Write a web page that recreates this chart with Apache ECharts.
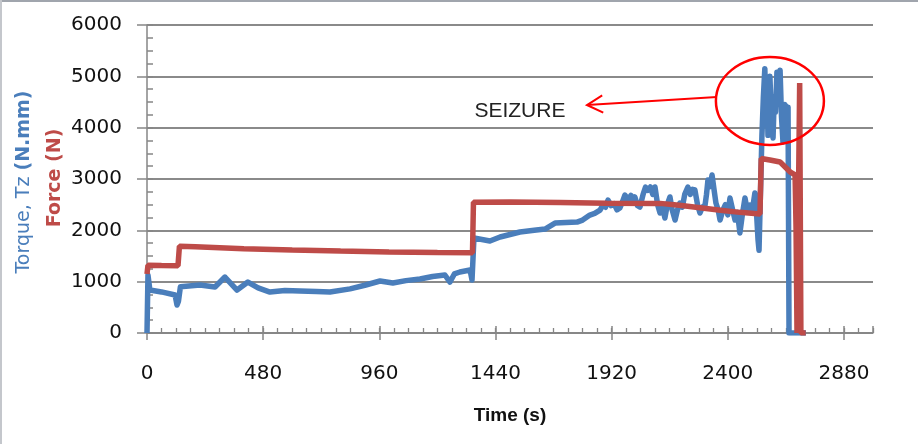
<!DOCTYPE html>
<html>
<head>
<meta charset="utf-8">
<title>Torque and force vs time</title>
<script src="https://cdn.jsdelivr.net/npm/echarts@6/dist/echarts.min.js"></script>
<style>
  html, body { margin: 0; padding: 0; background: #fff; }
  #chart { width: 918px; height: 444px; }
</style>
</head>
<body>
<div id="chart"></div>
<script>
// torque Tz (N.mm) readings
const torqueTime = [0, 4, 12, 60, 116, 124, 130, 138, 145, 219, 281, 322, 372, 417, 459, 508, 570, 632, 700, 756,
  839, 900, 963, 1016, 1070, 1128, 1180, 1231, 1252, 1270, 1293, 1335, 1343, 1351, 1417, 1459, 1541, 1600, 1645, 1686,
  1777, 1800, 1830, 1850, 1872, 1885, 1895, 1905, 1918, 1930, 1942, 1954, 1965, 1975, 1988, 2000, 2008, 2016, 2027, 2037,
  2050, 2060, 2070, 2080, 2090, 2099, 2110, 2120, 2130, 2140, 2150, 2161, 2170, 2182, 2192, 2202, 2212, 2222, 2235, 2245,
  2254, 2264, 2275, 2285, 2295, 2306, 2312, 2318, 2326, 2335, 2343, 2351, 2360, 2368, 2380, 2390, 2400, 2409, 2420, 2430,
  2440, 2450, 2460, 2471, 2480, 2492, 2500, 2512, 2518, 2525, 2529,
  2541, 2547, 2553, 2558, 2561, 2566, 2570, 2574, 2580, 2587, 2592, 2597, 2603, 2609, 2616, 2622, 2628, 2632, 2636, 2642,
  2649, 2653, 2723]
const torqueVal = [0, 1130, 837, 800, 740, 545, 620, 900, 896, 935, 896, 1090, 837, 993, 880, 798, 830, 820, 810, 800,
  860, 930, 1013, 974, 1020, 1052, 1100, 1130, 993, 1150, 1188, 1227, 1032, 1850, 1791, 1870, 1967, 2000, 2025, 2142,
  2160, 2200, 2298, 2330, 2395, 2500, 2450, 2590, 2480, 2520, 2400, 2435, 2560, 2688, 2600, 2680, 2560, 2650, 2480, 2454,
  2700, 2844, 2780, 2844, 2700, 2844, 2500, 2337, 2450, 2240, 2500, 2650, 2400, 2201, 2400, 2532, 2450, 2700, 2844, 2700,
  2800, 2786, 2500, 2337, 2450, 2493, 2700, 2980, 2850, 3078, 2800, 2532, 2400, 2201, 2400, 2500, 2300, 2630, 2400, 2200,
  2350, 1948, 2300, 2630, 2400, 2493, 2350, 2727, 2400, 1812, 1610,
  3850, 4600, 5150, 4300, 4900, 3850, 4500, 5000, 4200, 3800, 4600, 4300, 5080, 4500, 5120, 4200, 3720, 4400, 4450, 4100,
  4400, 0, 0]

// normal force (N) readings
const forceTime = [0, 4, 60, 128, 134, 200, 400, 600, 800, 1000, 1200, 1345, 1349, 1500, 1707, 1900, 2120, 2200, 2285,
  2370, 2450, 2533, 2538, 2574, 2616, 2657, 2678, 2682, 2686, 2692, 2697, 2702, 2722]
const forceVal = [1150, 1320, 1315, 1310, 1690, 1680, 1640, 1615, 1595, 1580, 1570, 1565, 2545, 2550, 2540, 2530, 2525,
  2490, 2440, 2390, 2350, 2320, 3400, 3370, 3330, 3140, 3080, 2050, 0, 0, 4870, 0, 0]

const timeTicks = [0, 480, 960, 1440, 1920, 2400, 2880]

// seizure note, in data units
const seizureCircle = [2574, 4520]
const arrowFrom = [2355, 4597]
const arrowTip = [1818, 4441]
const seizureLabel = [1541, 4324]

const BLUE = '#4a7ebb'
const RED = '#be4b48'
const AXIS = '#868686'
const FONT = 'DejaVu Sans'

const zip = (xs, ys) => xs.map((x, i) => [x, ys[i]])
const plain = (v) => String(v)

const chart = echarts.init(document.getElementById('chart'))

const overlayX = {
  type: 'value', min: 0, max: 3000, position: 'bottom',
  axisLine: { show: false }, axisLabel: { show: false }, splitLine: { show: false },
}
const overlayY = {
  type: 'value', min: 0, max: 6000, position: 'left',
  axisLine: { show: false }, axisLabel: { show: false }, splitLine: { show: false },
}

chart.setOption({
  animation: false,
  grid: { left: 147, right: 45, top: 25, bottom: 111 },
  xAxis: [
    {
      type: 'value', min: 0, max: 3000, position: 'bottom',
      axisLine: { lineStyle: { color: AXIS, width: 1.5 } },
      axisTick: { customValues: timeTicks, length: 7, lineStyle: { color: AXIS, width: 1.5 } },
      axisLabel: { customValues: timeTicks, margin: 31, fontSize: 20, color: '#111', fontFamily: FONT, formatter: plain },
      splitLine: { show: false },
      name: 'Time (s)', nameLocation: 'middle', nameGap: 73,
      nameTextStyle: { fontSize: 19, fontWeight: 'bold', color: '#111', fontFamily: 'Liberation Sans' },
    },
    { ...overlayX, interval: 480, axisTick: { inside: true, length: 7, lineStyle: { color: AXIS, width: 1.5 } } },
    { ...overlayX, interval: 60, axisTick: { inside: true, length: 5, lineStyle: { color: AXIS, width: 1.3 } } },
  ],
  yAxis: [
    {
      type: 'value', min: 0, max: 6000, interval: 1000, position: 'left',
      axisLine: { show: true, lineStyle: { color: AXIS, width: 1.5 } },
      axisTick: { show: true, length: 10, lineStyle: { color: AXIS, width: 1.5 } },
      axisLabel: { margin: 25, fontSize: 20, color: '#111', fontFamily: FONT, formatter: plain },
      splitLine: { lineStyle: { color: '#8a8a8a', width: 2 } },
    },
    { ...overlayY, interval: 250, axisTick: { show: true, inside: true, length: 6, lineStyle: { color: AXIS, width: 1.5 } } },
  ],
  series: [
    {
      name: 'Torque', type: 'line', data: zip(torqueTime, torqueVal), symbol: 'none',
      lineStyle: { color: BLUE, width: 5.5, join: 'round' }, itemStyle: { color: BLUE }, z: 2,
    },
    {
      name: 'Force', type: 'line', data: zip(forceTime, forceVal), symbol: 'none',
      lineStyle: { color: RED, width: 5.5 }, itemStyle: { color: RED }, z: 3,
    },
  ],
})

function px(p) {
  return chart.convertToPixel({ xAxisIndex: 0, yAxisIndex: 0 }, p)
}

const c = px(seizureCircle)
const a0 = px(arrowFrom)
const a1 = px(arrowTip)
const lab = px(seizureLabel)
const ang = Math.atan2(a0[1] - a1[1], a0[0] - a1[0])
const headLen = 18
const spread = 0.5
const wing = (s) => [a1[0] + headLen * Math.cos(ang + s), a1[1] + headLen * Math.sin(ang + s)]

chart.setOption({
  graphic: [
    // frame edges
    { type: 'line', shape: { x1: 0, y1: 1, x2: 918, y2: 1 }, style: { stroke: '#a0a5ad', lineWidth: 2 } },
    { type: 'line', shape: { x1: 1, y1: 0, x2: 1, y2: 444 }, style: { stroke: '#c4c7cc', lineWidth: 2 } },
    // axis title, two colours
    {
      type: 'text', x: 24, y: 182, rotation: Math.PI / 2,
      style: {
        text: '{a|Torque, Tz }{b|(N.mm)}', align: 'center', verticalAlign: 'middle',
        rich: {
          a: { fontSize: 19, fontFamily: FONT, fill: BLUE },
          b: { fontSize: 19, fontFamily: FONT, fontWeight: 'bold', fill: BLUE },
        },
      },
    },
    {
      type: 'text', x: 55, y: 178, rotation: Math.PI / 2,
      style: { text: 'Force (N)', align: 'center', verticalAlign: 'middle', fontSize: 19, fontWeight: 'bold', fontFamily: FONT, fill: RED },
    },
    // seizure note
    {
      type: 'ellipse', shape: { cx: c[0], cy: c[1], rx: 54, ry: 44 },
      style: { fill: 'none', stroke: '#ff0000', lineWidth: 2.5 }, z: 10,
    },
    {
      type: 'line', shape: { x1: a0[0], y1: a0[1], x2: a1[0], y2: a1[1] },
      style: { stroke: '#ff0000', lineWidth: 2 }, z: 10,
    },
    {
      type: 'polyline', shape: { points: [wing(spread), a1, wing(-spread)] },
      style: { fill: 'none', stroke: '#ff0000', lineWidth: 2 }, z: 10,
    },
    {
      type: 'text', x: lab[0], y: lab[1],
      style: { text: 'SEIZURE', align: 'center', verticalAlign: 'middle', fontSize: 21, fontFamily: 'Liberation Sans', fill: '#222' },
      z: 10,
    },
  ],
})
</script>
</body>
</html>
